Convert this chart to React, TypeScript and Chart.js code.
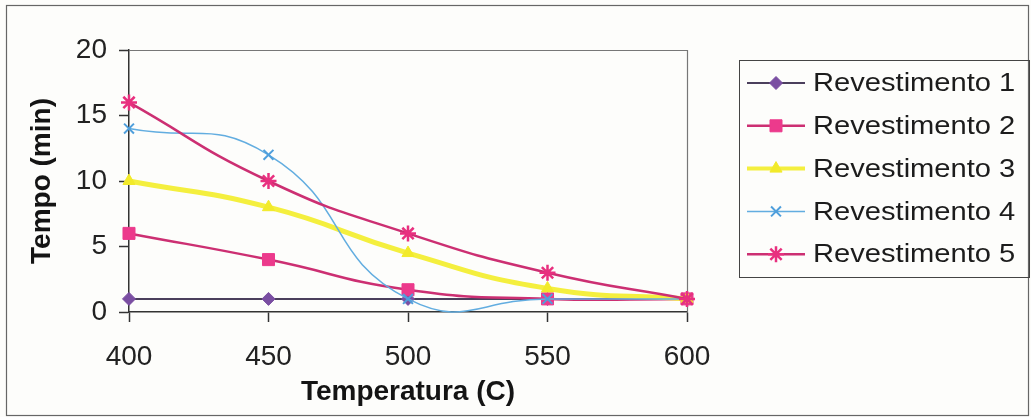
import { useEffect, useRef } from 'react';
import { Chart, registerables } from 'chart.js';
import { drawPoint } from 'chart.js/helpers';

Chart.register(...registerables);

const temperatures = [400, 450, 500, 550, 600];
const seriesNames = ['Revestimento 1', 'Revestimento 2', 'Revestimento 3', 'Revestimento 4', 'Revestimento 5'];
const rev1 = [1, 1, 1, 1, 1];
const rev2 = [6, 4, 1.7, 1, 1];
const rev3 = [10, 8, 4.5, 1.8, 1];
const rev4 = [14, 12, 1, 1, 1];
const rev5 = [16, 10, 6, 3, 1];
const xTickValues = [400, 450, 500, 550, 600];
const yTickValues = [0, 5, 10, 15, 20];
const xTitle = 'Temperatura (C)';
const yTitle = 'Tempo (min)';

const FONT = "Arial, 'Liberation Sans', sans-serif";

const styles = [
  { line: '#4b3f5c', point: '#7a4ea2', lw: 2, ps: 'rectRot', r: 6.5, pbw: 1 },
  { line: '#cc2f72', point: '#ec3a8c', lw: 2.5, ps: 'rect', r: 8.5, pbw: 1 },
  { line: '#f4ef3e', point: '#f2ea2a', lw: 5, ps: 'triangle', r: 7, pbw: 1 },
  { line: '#62ade0', point: '#4f9fdc', lw: 1.5, ps: 'crossRot', r: 7, pbw: 2 },
  { line: '#cc2f72', point: '#e8307f', lw: 2.5, ps: 'star', r: 8, pbw: 2.5 },
];

const seriesValues = [rev1, rev2, rev3, rev4, rev5];

const framePlugin = {
  id: 'frame',
  beforeDraw(chart: any) {
    const { ctx, width, height } = chart;
    ctx.save();
    ctx.fillStyle = '#fdfdfb';
    ctx.fillRect(0, 0, width, height);
    ctx.strokeStyle = '#666';
    ctx.lineWidth = 1.2;
    ctx.strokeRect(6.5, 5.5, 1022, 410);
    ctx.restore();
  },
  beforeDatasetsDraw(chart: any) {
    const { ctx, chartArea } = chart;
    ctx.save();
    ctx.strokeStyle = '#777';
    ctx.lineWidth = 1.2;
    ctx.beginPath();
    ctx.moveTo(chartArea.left, chartArea.top + 0.5);
    ctx.lineTo(chartArea.right + 0.5, chartArea.top + 0.5);
    ctx.lineTo(chartArea.right + 0.5, chartArea.bottom);
    ctx.stroke();
    ctx.restore();
  },
};

const legendPlugin = {
  id: 'customLegend',
  afterDraw(chart: any) {
    const { ctx } = chart;
    ctx.save();
    ctx.strokeStyle = '#444';
    ctx.lineWidth = 1;
    ctx.strokeRect(739.5, 60.5, 290, 217);
    chart.data.datasets.forEach((ds: any, i: number) => {
      const y = 83 + i * 42.8;
      ctx.save();
      ctx.strokeStyle = ds.borderColor;
      ctx.lineWidth = Math.min(ds.borderWidth, 4);
      ctx.beginPath();
      ctx.moveTo(747, y);
      ctx.lineTo(805, y);
      ctx.stroke();
      ctx.fillStyle = ds.pointBackgroundColor;
      ctx.strokeStyle = ds.pointBorderColor;
      ctx.lineWidth = ds.pointBorderWidth;
      drawPoint(ctx, { pointStyle: ds.pointStyle, rotation: 0, radius: ds.pointRadius, borderWidth: ds.pointBorderWidth } as any, 776, y);
      ctx.restore();
      ctx.save();
      ctx.translate(813, y);
      ctx.scale(1.12, 1);
      ctx.font = `26px ${FONT}`;
      ctx.textBaseline = 'middle';
      ctx.fillStyle = '#1c1c1c';
      ctx.fillText(ds.label, 0, 1);
      ctx.restore();
    });
    ctx.restore();
  },
};

export default function App() {
  const ref = useRef<HTMLCanvasElement | null>(null);

  useEffect(() => {
    document.body.style.margin = '0';
    const canvas = ref.current;
    if (!canvas) return;
    const datasets = seriesValues.map((vals, i) => ({
      label: seriesNames[i],
      data: temperatures.map((t, j) => ({ x: t, y: vals[j] })),
      borderColor: styles[i].line,
      borderWidth: styles[i].lw,
      pointStyle: styles[i].ps,
      pointRadius: styles[i].r,
      pointBackgroundColor: styles[i].point,
      pointBorderColor: styles[i].point,
      pointBorderWidth: styles[i].pbw,
      tension: 0.5,
      fill: false,
      clip: false,
      order: 5 - i,
    }));

    const chart = new Chart(canvas, {
      type: 'line',
      data: { datasets },
      plugins: [framePlugin, legendPlugin],
      options: {
        animation: false,
        responsive: false,
        devicePixelRatio: 1,
        layout: { padding: { top: 50, right: 344, bottom: 0, left: 0 } },
        elements: { line: { capBezierPoints: false } },
        plugins: { legend: { display: false }, tooltip: { enabled: false } },
        scales: {
          x: {
            type: 'linear',
            min: 400,
            max: 600,
            afterBuildTicks: (s: any) => {
              s.ticks = xTickValues.map((v) => ({ value: v }));
            },
            afterFit: (s: any) => {
              s.height = 105;
            },
            ticks: {
              font: { family: FONT, size: 28 },
              color: '#222',
              padding: 18,
              maxRotation: 0,
            },
            grid: { drawOnChartArea: false, drawTicks: true, tickLength: 10, color: '#333', tickWidth: 1.5 },
            border: { color: '#333', width: 1.5 },
            title: {
              display: true,
              text: xTitle,
              font: { family: FONT, size: 28, weight: 'bold' },
              color: '#141414',
              padding: { top: 0, bottom: 8 },
            },
          },
          y: {
            type: 'linear',
            min: 0,
            max: 20,
            afterBuildTicks: (s: any) => {
              s.ticks = yTickValues.map((v) => ({ value: v }));
            },
            afterFit: (s: any) => {
              s.width = 129;
            },
            ticks: {
              font: { family: FONT, size: 28 },
              color: '#222',
              padding: 12,
            },
            grid: { drawOnChartArea: false, drawTicks: true, tickLength: 10, color: '#333', tickWidth: 1.5 },
            border: { color: '#333', width: 1.5 },
            title: {
              display: true,
              text: yTitle,
              font: { family: FONT, size: 28, weight: 'bold' },
              color: '#141414',
              padding: { top: 25, bottom: 0 },
            },
          },
        },
      } as any,
    });
    return () => chart.destroy();
  }, []);

  return <canvas ref={ref} width={1031} height={417} style={{ display: 'block', width: 1031, height: 417 }} />;
}
